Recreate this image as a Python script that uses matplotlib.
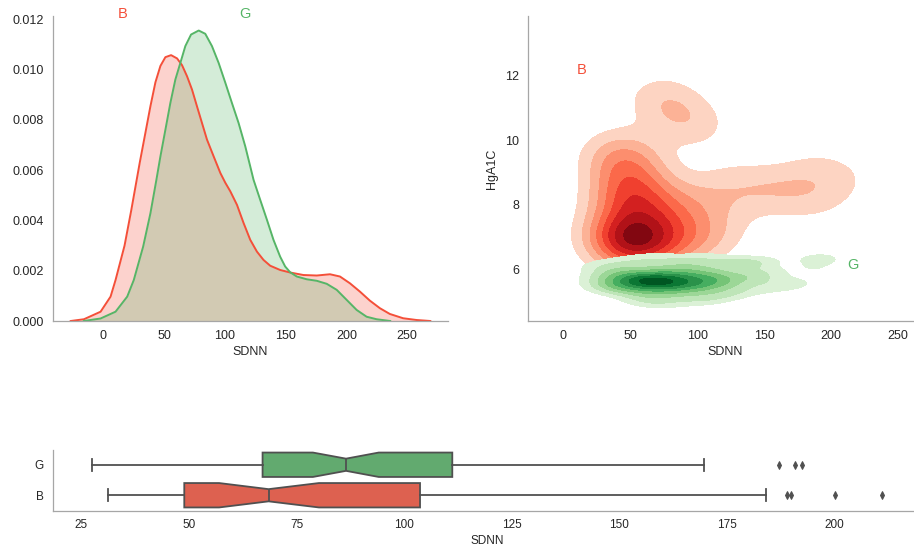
import numpy as np
import colorsys
import matplotlib
matplotlib.use("Agg")
import matplotlib.pyplot as plt
from matplotlib.ticker import MultipleLocator, FormatStrFormatter
from matplotlib.colors import Normalize

plt.rcParams['font.family'] = ['Liberation Sans', 'DejaVu Sans']

# ---------------- data ----------------
groups = ["G", "B"]

# univariate SDNN density curves
b_kde_x = [-26.8, -15.9, -2.2, 6.0, 10.1, 17.5, 23.0, 26.5, 30.0, 34.7, 38.8, 42.9, 47.0, 51.1,
           55.8, 60.7, 64.8, 68.9, 73.0, 77.1, 81.2, 85.3, 90.8, 96.3, 100.4, 104.5, 110.0,
           115.4, 120.9, 126.4, 131.8, 137.3, 145.5, 153.7, 164.6, 175.6, 186.5, 194.7, 202.9,
           211.1, 219.3, 227.5, 235.7, 246.6, 257.6, 269.0]
b_kde_y = [0.0, 0.00007, 0.00037, 0.00097, 0.00163, 0.00300, 0.00440, 0.00535, 0.00630, 0.00750,
           0.00855, 0.00950, 0.01015, 0.01050, 0.01058, 0.01045, 0.01018, 0.00974, 0.00921,
           0.00854, 0.00788, 0.00722, 0.00655, 0.00589, 0.00550, 0.00516, 0.00462, 0.00390,
           0.00323, 0.00276, 0.00243, 0.00220, 0.00203, 0.00193, 0.00183, 0.00181, 0.00186,
           0.00177, 0.00150, 0.00117, 0.00081, 0.00051, 0.00028, 0.00011, 0.00004, 0.0]
g_kde_x = [-16.0, -2.2, 10.1, 19.7, 25.1, 32.8, 38.8, 43.7, 47.0, 51.1, 55.2, 59.3, 63.4, 67.5,
           72.2, 78.5, 83.9, 89.4, 94.9, 100.4, 105.8, 111.3, 116.8, 120.9, 123.6, 129.1, 134.6,
           140.0, 145.5, 149.6, 153.7, 159.2, 167.4, 175.6, 183.8, 192.0, 200.2, 208.4, 216.6,
           224.8, 236.0]
g_kde_y = [0.0, 0.00010, 0.00037, 0.00097, 0.00163, 0.00296, 0.00429, 0.00562, 0.00655, 0.00761,
           0.00868, 0.00961, 0.01027, 0.01094, 0.01140, 0.01156, 0.01143, 0.01094, 0.01027,
           0.00948, 0.00868, 0.00788, 0.00695, 0.00615, 0.00562, 0.00482, 0.00403, 0.00323,
           0.00256, 0.00217, 0.00194, 0.00177, 0.00166, 0.00160, 0.00148, 0.00124, 0.00084,
           0.00044, 0.00017, 0.00007, 0.0]

# boxplot summary of SDNN (G, B)
box_whislo = [27.5, 31.1]
box_q1 = [67.1, 48.9]
box_cilo = [78.8, 57.0]
box_med = [86.5, 68.5]
box_cihi = [94.1, 80.2]
box_q3 = [111.2, 103.7]
box_whishi = [169.6, 184.1]
box_fliers = [[187.2, 190.9, 192.6], [189.1, 189.9, 200.1, 211.2]]

# bivariate samples (SDNN, HgA1C), one pair per subject
b_sdnn = [45, 50, 55, 53, 47, 60, 50, 35, 72, 80, 70, 32,
          52, 58, 48, 56, 62, 38, 36, 78, 65, 44,
          42, 45, 68, 58, 52, 75, 40, 55, 48,
          48, 40, 62, 55, 36, 45, 36,
          85, 90, 95, 100, 104, 88, 110, 120,
          68, 72, 84, 88, 92, 105,
          115, 128, 140, 150, 165, 175, 184.1, 189.1, 200.1, 211.2]
b_hba1c = [6.6, 6.9, 6.7, 6.5, 7.0, 6.6, 6.8, 6.8, 6.6, 6.8, 7.0, 7.0,
           6.9, 7.1, 7.1, 7.4, 7.2, 7.6, 7.2, 7.4, 7.8, 7.9,
           8.2, 8.8, 8.4, 8.0, 8.6, 8.0, 8.5, 8.3, 8.1,
           9.3, 9.0, 9.0, 9.5, 9.8, 9.6, 9.4,
           7.2, 6.7, 7.6, 7.0, 8.0, 8.2, 6.9, 7.3,
           11.2, 11.5, 11.1, 10.7, 10.6, 10.3,
           8.4, 8.8, 8.2, 8.6, 8.4, 8.7, 8.0, 9.2, 8.4, 8.9]

g_sdnn = [75,
          60, 100,
          70, 110,
          55, 85, 120,
          45, 70, 95, 130,
          35, 58, 72, 90, 110, 150,
          30, 45, 62, 72, 85, 98, 118, 165,
          40, 52, 60, 68, 75, 84, 95, 108, 125, 172,
          27.5, 48, 58, 66, 74, 88, 102, 118, 140,
          38, 58, 68, 82, 98, 115, 145,
          32, 52, 75, 92, 120, 150,
          45, 80, 105, 140, 187.2, 192.6,
          25, 65, 100, 190.9,
          40, 85, 125, 135,
          55, 95, 148,
          70, 110]
g_hba1c = [4.9,
           5.0, 5.0,
           5.1, 5.1,
           5.2, 5.2, 5.2,
           5.3, 5.3, 5.3, 5.3,
           5.4, 5.4, 5.4, 5.4, 5.4, 5.4,
           5.5, 5.5, 5.5, 5.5, 5.5, 5.5, 5.5, 5.5,
           5.6, 5.6, 5.6, 5.6, 5.6, 5.6, 5.6, 5.6, 5.6, 5.6,
           5.7, 5.7, 5.7, 5.7, 5.7, 5.7, 5.7, 5.7, 5.7,
           5.8, 5.8, 5.8, 5.8, 5.8, 5.8, 5.8,
           5.9, 5.9, 5.9, 5.9, 5.9, 5.9,
           6.0, 6.0, 6.0, 6.1, 6.0, 6.4,
           6.1, 6.1, 6.1, 6.25,
           6.2, 6.2, 6.2, 6.2,
           6.3, 6.3, 6.3,
           6.4, 6.4]

# kernel bandwidths (SDNN, HgA1C)
b_bw = (19.2, 0.55)
g_bw = (14.5, 0.14)
n_layers = 9

# ---------------- colours ----------------
reds = plt.get_cmap("Reds")
greens = plt.get_cmap("Greens")
red = reds(4 / 7)[:3]
green = greens(4 / 7)[:3]


def desat(c, p):
    h, l, s = colorsys.rgb_to_hls(*c)
    return colorsys.hls_to_rgb(h, l, s * p)


box_colors = [desat(green, 0.75), desat(red, 0.75)]
lum = min(colorsys.rgb_to_hls(*c)[1] for c in box_colors) * 0.6
gray = (lum, lum, lum)
text_col = "#262626"
spine_col = "#a6a6a6"

W, H, DPI = 914, 548, 100
fig = plt.figure(figsize=(W / DPI, H / DPI), dpi=DPI)


def px_axes(l, t, r, b):
    return fig.add_axes([l / W, 1 - b / H, (r - l) / W, (b - t) / H])


def style(ax, fs):
    for s in ["top", "right"]:
        ax.spines[s].set_visible(False)
    for s in ["left", "bottom"]:
        ax.spines[s].set_color(spine_col)
        ax.spines[s].set_linewidth(0.9)
    ax.tick_params(length=0, pad=6.3, labelsize=fs, labelcolor=text_col)


# ---------- top left: univariate densities ----------
ax1 = px_axes(52.7, 16, 448.3, 321)
style(ax1, 9)
ax1.plot(b_kde_x, b_kde_y, color=red, lw=1.4)
ax1.fill_between(b_kde_x, b_kde_y, color=red, alpha=0.25, lw=0)
ax1.plot(g_kde_x, g_kde_y, color=green, lw=1.4)
ax1.fill_between(g_kde_x, g_kde_y, color=green, alpha=0.25, lw=0)
ax1.set_ylim(bottom=0)
ax1.yaxis.set_major_locator(MultipleLocator(0.002))
ax1.yaxis.set_major_formatter(FormatStrFormatter("%.3f"))
ax1.xaxis.set_major_locator(MultipleLocator(50))
ax1.set_xlabel("SDNN", fontsize=9, color=text_col, labelpad=3)
ax1.text(15.8, 0.0122, "B", color=red, fontsize=10.5, ha="center", va="center", clip_on=False)
ax1.text(116.8, 0.0122, "G", color=green, fontsize=10.5, ha="center", va="center", clip_on=False)

# ---------- top right: bivariate densities ----------
ax2 = px_axes(527.7, 16, 923.3, 321)
style(ax2, 9)
xlim2 = (-26.6, 269.0)
ylim2 = (4.40, 13.85)
gx = np.linspace(*xlim2, 160)
gy = np.linspace(*ylim2, 160)
GX, GY = np.meshgrid(gx, gy)


def density(xs, ys, bw):
    z = np.zeros_like(GX)
    for x0, y0 in zip(xs, ys):
        z += np.exp(-0.5 * ((GX - x0) / bw[0]) ** 2 - 0.5 * ((GY - y0) / bw[1]) ** 2)
    return z / (2 * np.pi * bw[0] * bw[1] * len(xs))


for xs, ys, bw, cmap in [(b_sdnn, b_hba1c, b_bw, reds),
                         (g_sdnn, g_hba1c, g_bw, greens)]:
    z = density(xs, ys, bw)
    lev = np.linspace(0, z.max() * 1.04, n_layers + 1)
    # lowest layer left unshaded
    ax2.contourf(gx, gy, z, levels=lev[1:], cmap=cmap,
                 norm=Normalize(vmin=lev[0], vmax=lev[-1]))

ax2.set_xlim(*xlim2)
ax2.set_ylim(*ylim2)
ax2.xaxis.set_major_locator(MultipleLocator(50))
ax2.yaxis.set_major_locator(MultipleLocator(2))
ax2.set_xlabel("SDNN", fontsize=9, color=text_col, labelpad=3)
ax2.set_ylabel("HgA1C", fontsize=9, color=text_col, labelpad=5)
ax2.text(13.7, 12.18, "B", color=red, fontsize=10.5, ha="center", va="center")
ax2.text(216.7, 6.15, "G", color=green, fontsize=10.5, ha="center", va="center")

# ---------- bottom: notched boxplots ----------
ax3 = px_axes(52.7, 449.5, 922, 510.5)
style(ax3, 8.5)
stats = []
for i, g in enumerate(groups):
    stats.append(dict(label=g, whislo=box_whislo[i], q1=box_q1[i], cilo=box_cilo[i],
                      med=box_med[i], cihi=box_cihi[i], q3=box_q3[i],
                      whishi=box_whishi[i], fliers=box_fliers[i]))
lw = 1.3
kw = dict(positions=[0, 1], widths=0.8, shownotches=True, patch_artist=True,
          boxprops=dict(edgecolor=gray, linewidth=lw),
          whiskerprops=dict(color=gray, linewidth=lw),
          capprops=dict(color=gray, linewidth=lw),
          medianprops=dict(color=gray, linewidth=lw),
          flierprops=dict(marker="d", markerfacecolor=gray, markeredgecolor=gray,
                          markersize=4.2, markeredgewidth=0.7, linestyle="none"))
try:
    bp = ax3.bxp(stats, orientation="horizontal", **kw)
except TypeError:
    bp = ax3.bxp(stats, vert=False, **kw)
for patch, c in zip(bp["boxes"], box_colors):
    patch.set_facecolor(c)
ax3.set_ylim(1.5, -0.5)
ax3.set_yticks([0, 1])
ax3.set_yticklabels(groups)
ax3.xaxis.set_major_locator(MultipleLocator(25))
ax3.set_xlabel("SDNN", fontsize=8.5, color=text_col, labelpad=3)

fig.savefig("out.png", dpi=DPI)
